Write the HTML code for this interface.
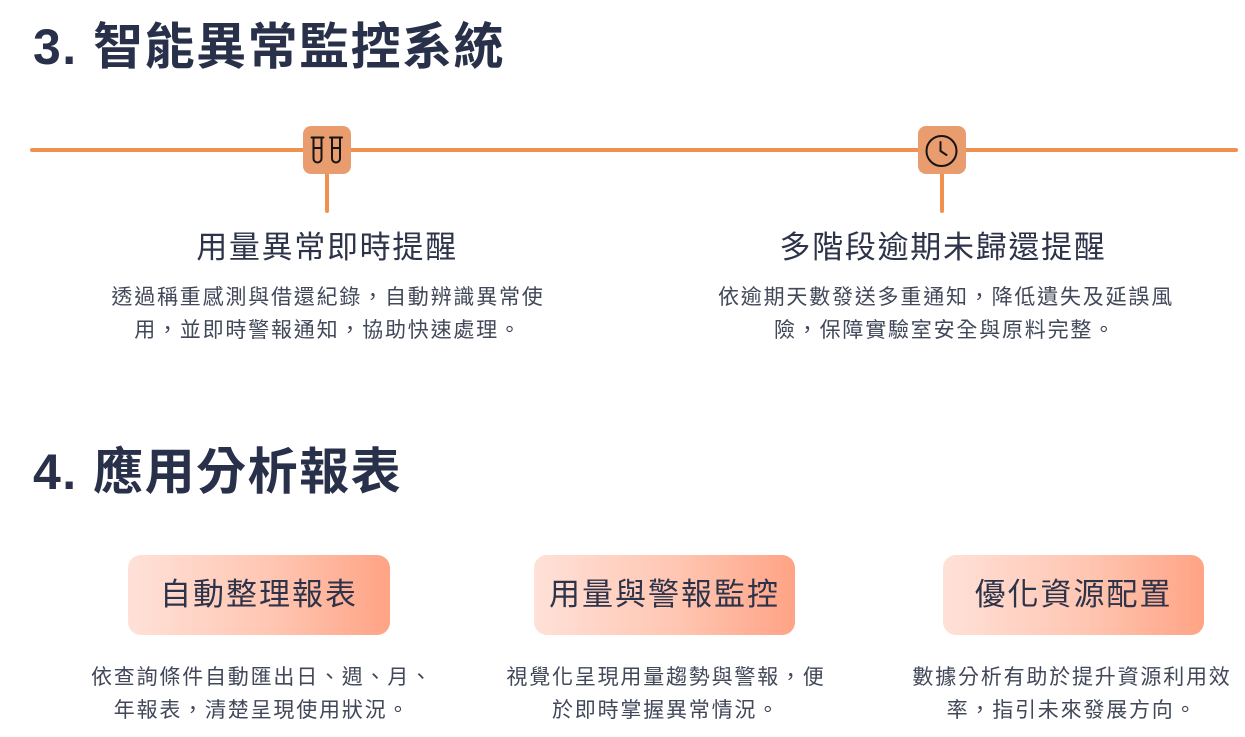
<!DOCTYPE html>
<html lang="zh-Hant">
<head>
<meta charset="utf-8">
<style>
  html, body { margin:0; padding:0; }
  body {
    width:1245px; height:737px; overflow:hidden; background:#ffffff; position:relative;
    font-family:"Liberation Sans","Noto Sans CJK TC","Noto Sans CJK SC",sans-serif;
  }
  .title {
    position:absolute; left:33px; margin:0;
    font-size:50px; line-height:50px; font-weight:700; color:#283149;
    letter-spacing:1.5px; white-space:nowrap;
  }
  .t-head {
    position:absolute; width:600px; text-align:center;
    font-size:31px; line-height:31px; font-weight:400; color:#2d3349;
    letter-spacing:1.7px; white-space:nowrap;
  }
  .desc {
    position:absolute; width:600px; text-align:center;
    font-size:21px; line-height:33px; font-weight:400; color:#424859;
    letter-spacing:1.8px; white-space:nowrap;
  }
  .card {
    position:absolute; top:555px; height:80px; border-radius:13px;
    background:linear-gradient(90deg,#FFE1D8 0%,#FFC6B2 55%,#FFA385 100%);
    display:flex; align-items:center; justify-content:center;
    font-size:31px; font-weight:400; color:#2d3349; letter-spacing:2px;
    box-sizing:border-box; padding-bottom:8px; white-space:nowrap;
  }
  svg { position:absolute; left:0; top:0; }
</style>
</head>
<body>

<div class="title" style="top:22px;">3. 智能異常監控系統</div>

<svg width="1245" height="737" viewBox="0 0 1245 737">
  <line x1="32" y1="150" x2="1236" y2="150" stroke="#F0924F" stroke-width="4" stroke-linecap="round"/>
  <line x1="327" y1="170" x2="327" y2="211" stroke="#F0924F" stroke-width="4" stroke-linecap="round"/>
  <line x1="942" y1="170" x2="942" y2="211" stroke="#F0924F" stroke-width="4" stroke-linecap="round"/>
  <rect x="303" y="126" width="48" height="48" rx="8" fill="#E99C6E"/>
  <rect x="918" y="126" width="48" height="48" rx="8" fill="#E99C6E"/>
  <!-- test tubes -->
  <g fill="none" stroke="#151515" stroke-width="2" stroke-linecap="round">
    <path d="M311.5 137.5 H323.5"/>
    <path d="M313.5 137.5 V158.5 A4 4 0 0 0 321.5 158.5 V137.5"/>
    <path d="M313.5 148 H321.5"/>
    <path d="M330 137.5 H342"/>
    <path d="M332 137.5 V158.5 A4 4 0 0 0 340 158.5 V137.5"/>
    <path d="M332 148 H340"/>
  </g>
  <!-- clock -->
  <g fill="none" stroke="#151515" stroke-width="2" stroke-linecap="round" stroke-linejoin="round">
    <circle cx="941.5" cy="151" r="15"/>
    <path d="M940.5 142 V151 L946.5 155"/>
  </g>
</svg>

<div class="t-head" style="left:27px; top:232px;">用量異常即時提醒</div>
<div class="desc" style="left:28px; top:281px;">透過稱重感測與借還紀錄，自動辨識異常使<br>用，並即時警報通知，協助快速處理。</div>

<div class="t-head" style="left:643px; top:232px;">多階段逾期未歸還提醒</div>
<div class="desc" style="left:646px; top:281px;">依逾期天數發送多重通知，降低遺失及延誤風</div>
<div class="desc" style="left:645px; top:314px;">險，保障實驗室安全與原料完整。</div>

<div class="title" style="top:447px;">4. 應用分析報表</div>

<div class="card" style="left:128px; width:262px;">自動整理報表</div>
<div class="card" style="left:534px; width:261px;">用量與警報監控</div>
<div class="card" style="left:943px; width:261px;">優化資源配置</div>

<div class="desc" style="left:-38px; top:661px;">依查詢條件自動匯出日、週、月、<br>年報表，清楚呈現使用狀況。</div>
<div class="desc" style="left:366px; top:661px;">視覺化呈現用量趨勢與警報，便<br>於即時掌握異常情況。</div>
<div class="desc" style="left:772px; top:661px;">數據分析有助於提升資源利用效<br>率，指引未來發展方向。</div>

</body>
</html>
